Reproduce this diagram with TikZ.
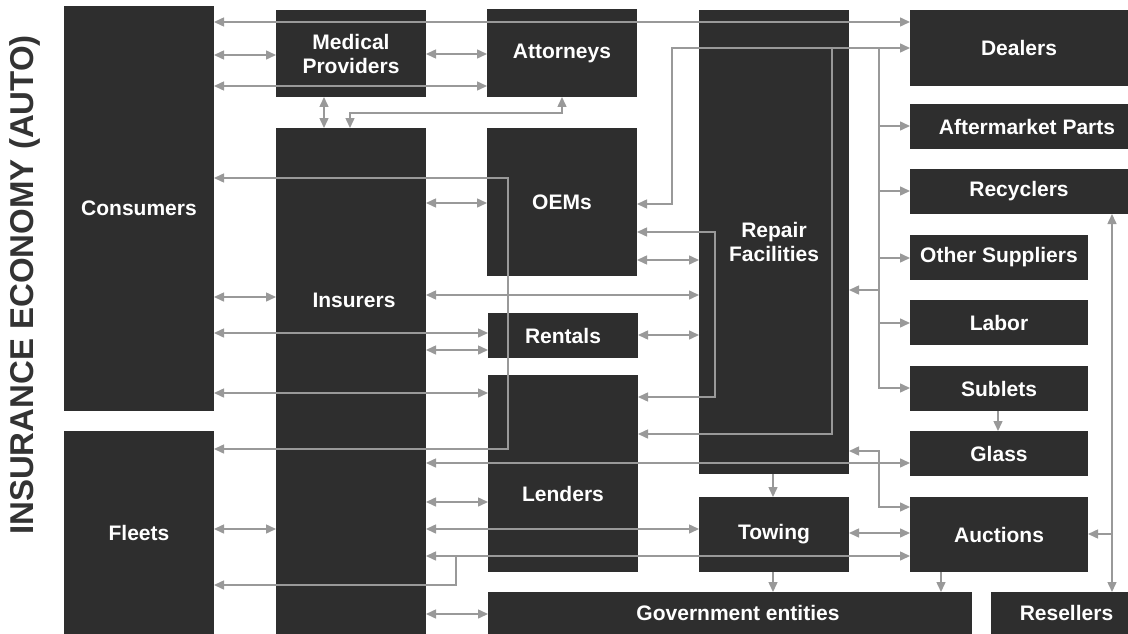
\documentclass[tikz,border=0pt]{standalone}
\usepackage{fontspec}
\setmainfont{Liberation Sans}
\usepackage{xcolor}
\usepackage{tikz}
\usetikzlibrary{arrows.meta}
\definecolor{boxgray}{HTML}{2E2E2E}
\definecolor{linegray}{HTML}{999999}
\definecolor{titlegray}{HTML}{333333}
\tikzstyle{box} = [fill=boxgray, text=white, inner sep=0pt, outer sep=0pt, align=center, font=\fontsize{21}{24}\selectfont\bfseries]
\tikzstyle{lbl} = [text=white, inner sep=0pt, align=center, font=\fontsize{21}{24}\selectfont\bfseries]
\tikzstyle{conn} = [draw=linegray, line width=1.5pt, >={Triangle[length=10pt,width=9pt]}]

\begin{document}
\begin{tikzpicture}[x=1pt, y=-1pt]
    \useasboundingbox (0,0) rectangle (1128,634);

    \node[text=titlegray, rotate=90, font=\fontsize{33}{36}\selectfont\bfseries] (title) at (25,285) {INSURANCE ECONOMY (AUTO)};

    \node[box, minimum width=150, minimum height=405] (cons) at (139,208.5) {Consumers};
    \node[box, minimum width=150, minimum height=203] (fleet) at (139,532.5) {Fleets};
    \node[box, minimum width=150, minimum height=87] (med) at (351,53.5) {Medical\\Providers};
    \node[box, minimum width=150, minimum height=506, label={[lbl,xshift=3pt,yshift=81pt]center:Insurers}] (ins) at (351,381) {};
    \node[box, minimum width=150, minimum height=88] (att) at (562,53) {Attorneys};
    \node[box, minimum width=150, minimum height=148] (oem) at (562,202) {OEMs};
    \node[box, minimum width=150, minimum height=45] (rent) at (563,335.5) {Rentals};
    \node[box, minimum width=150, minimum height=197, label={[lbl,yshift=-20pt]center:Lenders}] (lend) at (563,473.5) {};
    \node[box, minimum width=484, minimum height=42, label={[lbl,xshift=8pt]center:Government entities}] (gov) at (730,613) {};
    \node[box, minimum width=150, minimum height=464] (rep) at (774,242) {Repair\\Facilities};
    \node[box, minimum width=150, minimum height=75] (tow) at (774,534.5) {Towing};
    \node[box, minimum width=218, minimum height=76] (deal) at (1019,48) {Dealers};
    \node[box, minimum width=218, minimum height=45, label={[lbl,xshift=8pt]center:Aftermarket Parts}] (aft) at (1019,126.5) {};
    \node[box, minimum width=218, minimum height=45] (recy) at (1019,191.5) {Recyclers};
    \node[box, minimum width=178, minimum height=45] (oth) at (999,257.5) {Other Suppliers};
    \node[box, minimum width=178, minimum height=45] (lab) at (999,322.5) {Labor};
    \node[box, minimum width=178, minimum height=45] (sub) at (999,388.5) {Sublets};
    \node[box, minimum width=178, minimum height=45] (glass) at (999,453.5) {Glass};
    \node[box, minimum width=178, minimum height=75] (auc) at (999,534.5) {Auctions};
    \node[box, minimum width=137, minimum height=42, label={[lbl,xshift=7pt]center:Resellers}] (res) at (1059.5,613) {};

    \draw[conn, <->] (cons.east|-0,22) -- (deal.west|-0,22);
    \draw[conn, <->] (cons.east|-0,55) -- (med.west|-0,55);
    \draw[conn, <->] (cons.east|-0,86) -- (att.west|-0,86);
    \draw[conn, <->] (med.east|-0,54) -- (att.west|-0,54);
    \draw[conn, <->] (med.south-|324,0) -- (ins.north-|324,0);
    \draw[conn, <->] (ins.north-|350,0) |- (562,113) -- (att.south-|562,0);

    \draw[conn, <->] (oem.east|-0,204) -| (672,48) -- (deal.west|-0,48);
    \draw[conn, <-] (lend.east|-0,434) -| (832,48);
    \draw[conn, ->] (879,48) |- (sub.west|-0,388);
    \foreach \n/\y in {aft/126, recy/191, oth/258, lab/323}
        \draw[conn, ->] (879,\y) -- (\n.west|-0,\y);
    \draw[conn, ->] (879,290) -- (rep.east|-0,290);

    \draw[conn, <->] (ins.east|-0,203) -- (oem.west|-0,203);
    \draw[conn, <->] (cons.east|-0,178) -| (508,449) -- (fleet.east|-0,449);
    \draw[conn, <->] (oem.east|-0,232) -| (715,397) -- (lend.east|-0,397);
    \draw[conn, <->] (oem.east|-0,260) -- (rep.west|-0,260);
    \draw[conn, <->] (ins.east|-0,295) -- (rep.west|-0,295);
    \draw[conn, <->] (cons.east|-0,297) -- (ins.west|-0,297);
    \draw[conn, <->] (cons.east|-0,333) -- (rent.west|-0,333);
    \draw[conn, <->] (ins.east|-0,350) -- (rent.west|-0,350);
    \draw[conn, <->] (rent.east|-0,335) -- (rep.west|-0,335);
    \draw[conn, <->] (cons.east|-0,393) -- (lend.west|-0,393);
    \draw[conn, <->] (ins.east|-0,463) -- (glass.west|-0,463);
    \draw[conn, <->] (ins.east|-0,502) -- (lend.west|-0,502);
    \draw[conn, <->] (ins.east|-0,529) -- (tow.west|-0,529);
    \draw[conn, <->] (ins.east|-0,556) -- (auc.west|-0,556);
    \draw[conn, ->] (456,556) |- (fleet.east|-0,585);
    \draw[conn, <->] (fleet.east|-0,529) -- (ins.west|-0,529);
    \draw[conn, <->] (ins.east|-0,614) -- (gov.west|-0,614);

    \draw[conn, ->] (rep.south-|773,0) -- (tow.north-|773,0);
    \draw[conn, ->] (tow.south-|773,0) -- (gov.north-|773,0);
    \draw[conn, ->] (auc.south-|941,0) -- (gov.north-|941,0);
    \draw[conn, <->] (tow.east|-0,533) -- (auc.west|-0,533);
    \draw[conn, <->] (rep.east|-0,451) -| (879,507) -- (auc.west|-0,507);
    \draw[conn, ->] (sub.south-|998,0) -- (glass.north-|998,0);
    \draw[conn, <->] (recy.south-|1112,0) -- (res.north-|1112,0);
    \draw[conn, ->] (1112,534) -- (auc.east|-0,534);
\end{tikzpicture}
\end{document}
